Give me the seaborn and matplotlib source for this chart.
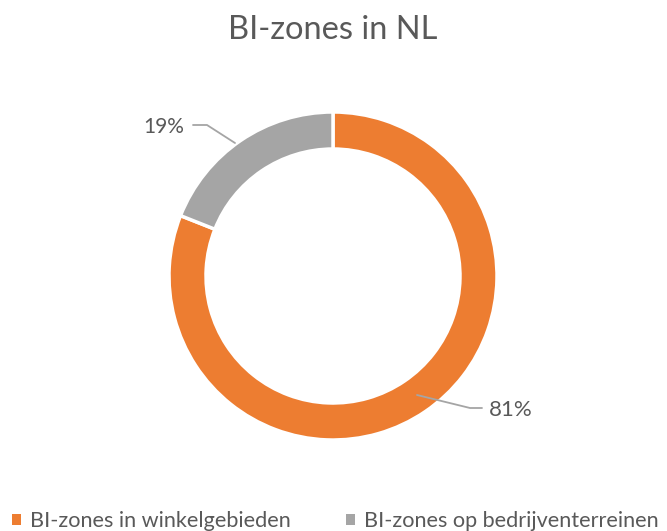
import matplotlib
matplotlib.use("Agg")
import matplotlib.pyplot as plt
import seaborn as sns
from matplotlib.patches import Patch

categories = ["BI-zones in winkelgebieden", "BI-zones op bedrijventerreinen"]
values = [81, 19]
pct_labels = ["81%", "19%"]
title = "BI-zones in NL"
colors = ["#ED7D31", "#A5A5A5"]

sns.set_theme(style="white")
plt.rcParams['font.family'] = ['Lato', 'DejaVu Sans']
text_col = "#595959"

W, H = 667, 531
fig = plt.figure(figsize=(W / 100, H / 100), dpi=100)
ax = fig.add_axes([0, 0, 1, 1])

R = 164.0
cx, cy = 333.0, 276.0  # pixel center (from top)

wedges, _ = ax.pie(values, colors=colors, startangle=90, counterclock=False,
                   radius=1.0, wedgeprops=dict(width=37 / R, edgecolor="white", linewidth=2.5))

def px(x, y):
    return ((x - cx) / R, (cy - y) / R)

ax.set_xlim(-cx / R, (W - cx) / R)
ax.set_ylim(-(H - cy) / R, cy / R)
ax.set_aspect('auto')
ax.axis('off')

# leader lines and labels
l19 = [px(193, 125), px(207, 125), px(235, 143)]
ax.plot([p[0] for p in l19], [p[1] for p in l19], color="#A5A5A5", lw=1.3, clip_on=False)
ax.text(*px(184, 127), pct_labels[1], ha="right", va="center", fontsize=15, color=text_col)

l81 = [px(417, 395), px(470, 408), px(482, 408)]
ax.plot([p[0] for p in l81], [p[1] for p in l81], color="#A5A5A5", lw=1.3, clip_on=False)
ax.text(*px(489, 410), pct_labels[0], ha="left", va="center", fontsize=16, color=text_col)

ax.text(*px(333, 30), title, ha="center", va="center", fontsize=23.5, color=text_col)

handles = [Patch(facecolor=c, edgecolor="none") for c in colors]
leg = fig.legend(handles, categories, loc="center left", bbox_to_anchor=(12 / W, 10 / H), ncol=2,
                 frameon=False, fontsize=15.6, handlelength=0.42, handleheight=0.42,
                 handletextpad=0.42, columnspacing=2.55, borderpad=0, borderaxespad=0,
                 labelcolor=text_col)

fig.savefig("out.png", dpi=100)
